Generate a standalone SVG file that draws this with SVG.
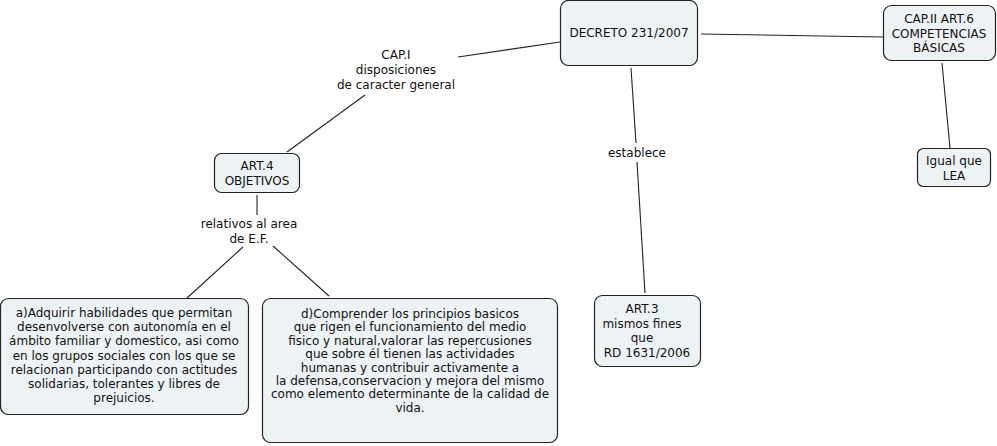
<svg xmlns="http://www.w3.org/2000/svg" width="997" height="446" viewBox="0 0 997 446">
<style>
.n{fill:#edf3f5;stroke:#222;stroke-width:1.2}
text{font-family:"DejaVu Sans","Verdana",sans-serif;font-size:12px;fill:#111;text-anchor:middle}
.c line{stroke:#222;stroke-width:1.1}
</style>
<rect width="997" height="446" fill="#fff"/>
<g class="c" id="connectors">
<line x1="560" y1="42" x2="458" y2="57"/>
<line x1="365" y1="95" x2="287" y2="152"/>
<line x1="701" y1="34" x2="883" y2="37"/>
<line x1="942" y1="63" x2="950" y2="148"/>
<line x1="631" y1="68" x2="636" y2="143"/>
<line x1="637" y1="162" x2="645" y2="293"/>
<line x1="257" y1="195" x2="257" y2="215"/>
<line x1="243" y1="247" x2="187" y2="298"/>
<line x1="273" y1="246" x2="329" y2="296"/>
</g>
<g id="lbl-cap1"><text x="396" y="59">CAP.I</text><text x="396" y="74">disposiciones</text><text x="396" y="89">de caracter general</text></g>
<g id="lbl-establece"><text x="637" y="157">establece</text></g>
<g id="lbl-relativos"><text x="249" y="228">relativos al area</text><text x="249" y="243">de E.F.</text></g>
<g id="decreto"><rect class="n" x="560.5" y="0.5" width="137" height="65" rx="8"/><text x="629" y="37">DECRETO 231/2007</text></g>
<g id="cap2"><rect class="n" x="883.5" y="5.5" width="112" height="55" rx="8"/><text x="939" y="23">CAP.II ART.6</text><text x="939" y="38">COMPETENCIAS</text><text x="939" y="52">BÁSICAS</text></g>
<g id="igual"><rect class="n" x="917.5" y="148.5" width="73" height="38" rx="6"/><text x="954" y="165">Igual que</text><text x="954" y="180">LEA</text></g>
<g id="art4"><rect class="n" x="214.5" y="153.5" width="85" height="39" rx="7"/><text x="257" y="170">ART.4</text><text x="257" y="185">OBJETIVOS</text></g>
<g id="art3"><rect class="n" x="594.5" y="295.5" width="106" height="71" rx="8"/><text x="642" y="313">ART.3</text><text x="642" y="328">mismos fines</text><text x="642" y="342">que</text><text x="647" y="357">RD 1631/2006</text></g>
<g id="obj-a"><rect class="n" x="0.5" y="298.5" width="248" height="116" rx="8"/>
<text x="124" y="317">a)Adquirir habilidades que permitan</text>
<text x="124" y="331">desenvolverse con autonomía en el</text>
<text x="124" y="345">ámbito familiar y domestico, asi como</text>
<text x="124" y="360">en los grupos sociales con los que se</text>
<text x="124" y="374">relacionan participando con actitudes</text>
<text x="124" y="388">solidarias, tolerantes y libres de</text>
<text x="124" y="402">prejuicios.</text></g>
<g id="obj-d"><rect class="n" x="262.5" y="298.5" width="295" height="144" rx="8"/>
<text x="410" y="318">d)Comprender los principios basicos</text>
<text x="410" y="331.4">que rigen el funcionamiento del medio</text>
<text x="410" y="344.8">fisico y natural,valorar las repercusiones</text>
<text x="410" y="358.2">que sobre él tienen las actividades</text>
<text x="410" y="371.6">humanas y contribuir activamente a</text>
<text x="410" y="385">la defensa,conservacion y mejora del mismo</text>
<text x="410" y="398.4">como elemento determinante de la calidad de</text>
<text x="410" y="411.8">vida.</text></g>
</svg>
